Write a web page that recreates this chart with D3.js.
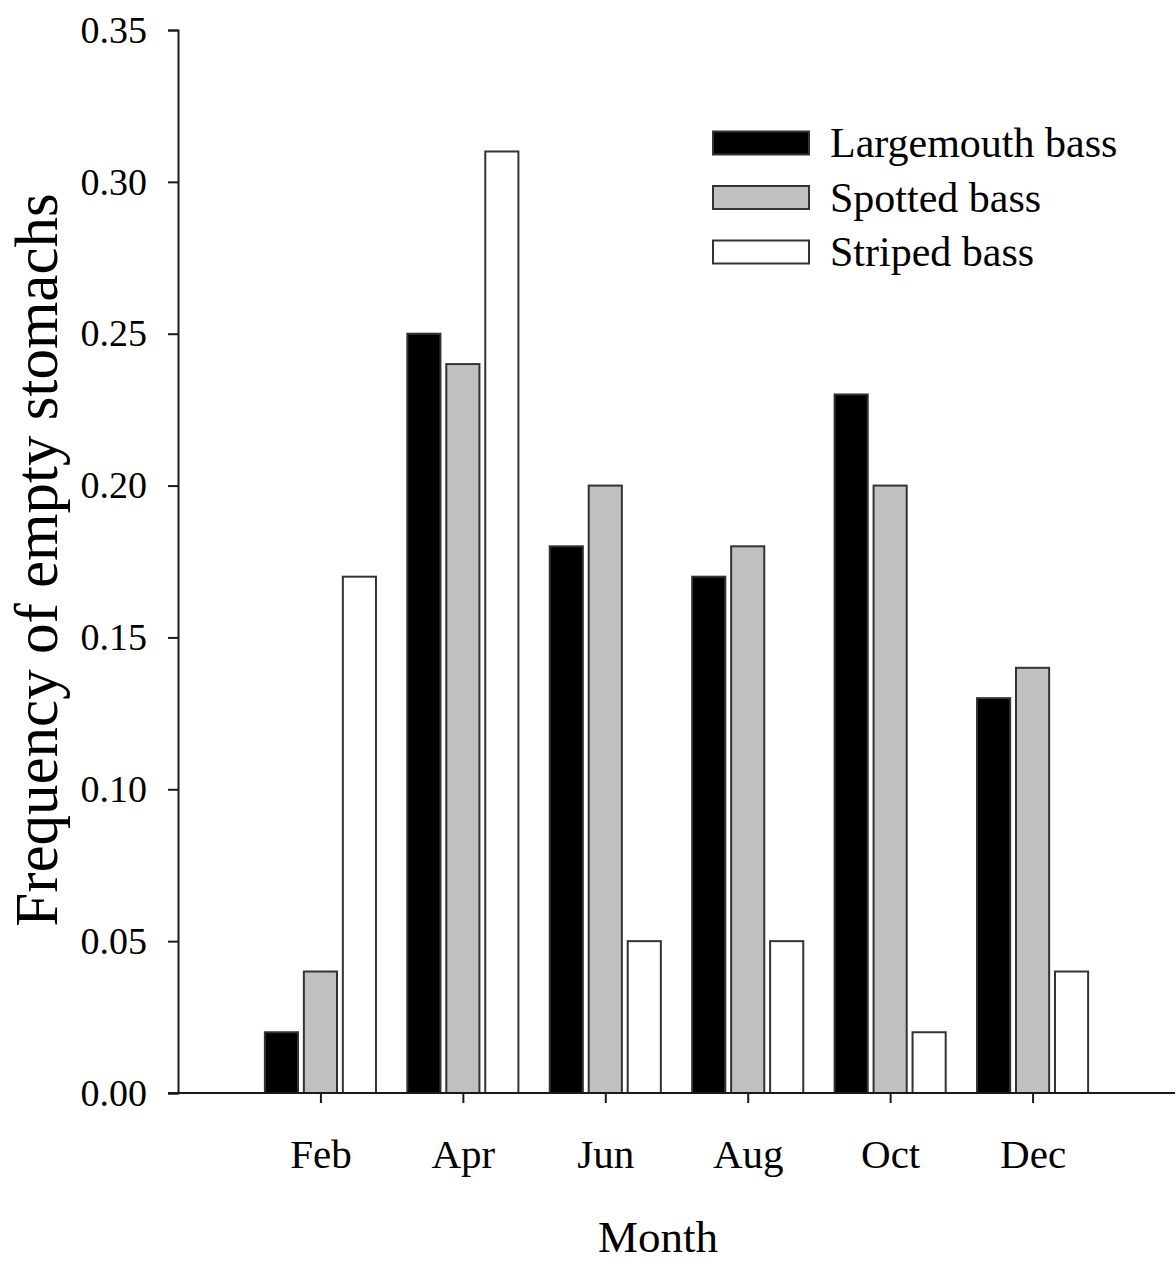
<!DOCTYPE html>
<html>
<head>
<meta charset="utf-8">
<script src="https://cdn.jsdelivr.net/npm/d3@7"></script>
<style>
  html, body { margin: 0; padding: 0; background: #fff; }
  svg { display: block; }
  text { font-family: "Liberation Serif", "Times New Roman", serif; fill: #000; }
</style>
</head>
<body>
<svg id="chart" width="1176" height="1264"></svg>
<script>
// Sampling months (month number) and their labels
const months = ["Feb", "Apr", "Jun", "Aug", "Oct", "Dec"];
const monthNumbers = [2, 4, 6, 8, 10, 12];
const species = ["Largemouth bass", "Spotted bass", "Striped bass"];

// Frequency of empty stomachs per species, by month
const largemouth = [0.02, 0.25, 0.18, 0.17, 0.23, 0.13];
const spotted    = [0.04, 0.24, 0.20, 0.18, 0.20, 0.14];
const striped    = [0.17, 0.31, 0.05, 0.05, 0.02, 0.04];

const yTicks = [0, 0.05, 0.10, 0.15, 0.20, 0.25, 0.30, 0.35];
const fills = ["#000000", "#c0c0c0", "#ffffff"];

const seriesValues = [largemouth, spotted, striped];

const svg = d3.select("#chart");
const axisColor = "#1a1a1a";

// Scales
const x = d3.scaleLinear().domain([0, 14]).range([178, 1175]);
const y = d3.scaleLinear().domain([0, 0.35]).range([1093, 30]);

const groupWidth = (x(2) - x(0)) * 0.78;
const xs = d3.scaleBand()
  .domain(species)
  .range([-groupWidth / 2, groupWidth / 2])
  .paddingInner(0.15);

// Bars
const rows = [];
months.forEach((m, i) => {
  species.forEach((s, j) => {
    rows.push({ month: monthNumbers[i], species: s, value: seriesValues[j][i], k: j });
  });
});

svg.append("g").selectAll("rect")
  .data(rows)
  .join("rect")
  .attr("x", d => x(d.month) + xs(d.species))
  .attr("width", xs.bandwidth())
  .attr("y", d => y(d.value))
  .attr("height", d => y(0) - y(d.value))
  .attr("fill", d => fills[d.k])
  .attr("stroke", "#333")
  .attr("stroke-width", 2);

// Y axis
const yAxis = svg.append("g")
  .attr("transform", `translate(${x(0)},0)`)
  .call(d3.axisLeft(y).tickValues(yTicks).tickFormat(d3.format(".2f")).tickSizeOuter(0).tickSize(10).tickPadding(21));
yAxis.select(".domain").attr("stroke", axisColor).attr("stroke-width", 2);
yAxis.selectAll(".tick line").attr("stroke", axisColor).attr("stroke-width", 2);
yAxis.selectAll(".tick text")
  .attr("font-family", "Liberation Serif, Times New Roman, serif")
  .attr("font-size", 38)
  .attr("fill", "#000");

// X axis
const xAxis = svg.append("g")
  .attr("transform", `translate(0,${y(0)})`)
  .call(d3.axisBottom(x).tickValues(monthNumbers)
    .tickFormat((d, i) => months[i]).tickSizeOuter(0).tickSize(10).tickPadding(36));
xAxis.select(".domain")
  .attr("d", `M${x(0) - 10},0H${x(14)}`)
  .attr("stroke", axisColor).attr("stroke-width", 2);
xAxis.selectAll(".tick line").attr("stroke", axisColor).attr("stroke-width", 2);
xAxis.selectAll(".tick text")
  .attr("font-family", "Liberation Serif, Times New Roman, serif")
  .attr("font-size", 41)
  .attr("fill", "#000");

// Axis titles
svg.append("text")
  .attr("transform", "translate(57,560) rotate(-90)")
  .attr("text-anchor", "middle")
  .attr("font-size", 61)
  .text("Frequency of empty stomachs");

svg.append("text")
  .attr("x", 658)
  .attr("y", 1252)
  .attr("text-anchor", "middle")
  .attr("font-size", 45)
  .text("Month");

// Legend
const legend = svg.append("g").attr("transform", "translate(713,143)");
species.forEach((s, j) => {
  const g = legend.append("g").attr("transform", `translate(0,${j * 54.5})`);
  g.append("rect")
    .attr("x", 0).attr("y", -11.5)
    .attr("width", 96).attr("height", 23)
    .attr("fill", fills[j])
    .attr("stroke", "#333")
    .attr("stroke-width", 2);
  g.append("text")
    .attr("x", 117)
    .attr("y", 14)
    .attr("font-size", 42)
    .text(s);
});
</script>
</body>
</html>
